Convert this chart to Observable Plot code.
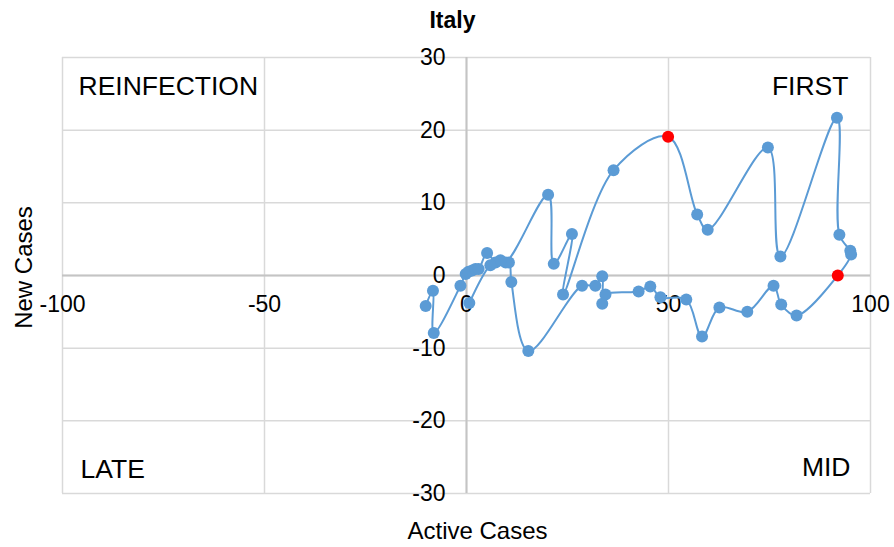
<!DOCTYPE html>
<html>
<head>
<meta charset="utf-8">
<script src="https://cdn.jsdelivr.net/npm/d3@7"></script>
<script src="https://cdn.jsdelivr.net/npm/@observablehq/plot@0.6"></script>
<style>
  html, body { margin: 0; padding: 0; background: #ffffff; }
  #chart svg { display: block; }
</style>
</head>
<body>
<div id="chart"></div>
<script>
// ---- Data, in drawing order ----
const activeCases = [
  -10.1, -8.3, -8.1, -1.5, -0.2, 0.5, 1.4, 2.2, 3.0, 5.1,
  7.2, 9.7, 20.2, 21.6, 26.1, 23.9, 36.4, 49.9, 57.1, 59.7,
  74.6, 77.7, 91.7, 92.3, 95.0, 95.2, 91.9, 81.7, 77.9, 76.0,
  69.5, 62.6, 58.3, 54.4, 48.0, 45.5, 42.6, 34.4, 33.6, 33.6,
  31.9, 28.6, 15.3, 11.1, 10.5, 8.4, 5.9, 0.7
];
const newCases = [
  -4.2, -2.1, -7.9, -1.4, 0.2, 0.5, 0.7, 0.9, 0.9, 3.1,
  1.8, 1.8, 11.1, 1.6, 5.7, -2.6, 14.5, 19.1, 8.4, 6.3,
  17.6, 2.6, 21.7, 5.6, 3.4, 2.9, 0.0, -5.5, -4.0, -1.4,
  -5.0, -4.4, -8.4, -3.3, -3.0, -1.5, -2.2, -2.6, -3.9, -0.1,
  -1.4, -1.4, -10.4, -0.9, 1.8, 2.1, 1.4, -3.8
];
const highlightIndex = [17, 26];
const xTicks = [-100, -50, 0, 50, 100];
const yTicks = [-30, -20, -10, 0, 10, 20, 30];
const chartTitle = "Italy";
const xTitle = "Active Cases";
const yTitle = "New Cases";
const quadrantLabels = ["REINFECTION", "FIRST", "LATE", "MID"];

const points = activeCases.map((a, i) => ({
  active: a,
  newc: newCases[i],
  highlight: highlightIndex.includes(i)
}));

const FONT = "'Liberation Sans', Arial, Helvetica, sans-serif";
const grid = "#d9d9d9";
const axisC = "#c4c4c4";
const blue = "#5B9BD5";
const red = "#FF0000";

const chart = Plot.plot({
  width: 894,
  height: 547,
  marginLeft: 62,
  marginRight: 24,
  marginTop: 57,
  marginBottom: 54,
  x: { domain: [-100, 100], axis: null },
  y: { domain: [-30, 30], axis: null },
  style: { fontFamily: FONT, background: "#ffffff", color: "#000000", overflow: "visible" },
  marks: [
    Plot.ruleX(xTicks, { stroke: grid, strokeWidth: 1.5 }),
    Plot.ruleY(yTicks, { stroke: grid, strokeWidth: 1.5 }),
    Plot.ruleX([0], { stroke: axisC, strokeWidth: 2 }),
    Plot.ruleY([0], { stroke: axisC, strokeWidth: 2 }),
    // tick labels
    Plot.text(xTicks, { x: d => d, y: 0, dy: 29, text: d => String(d), fontSize: 23, lineAnchor: "middle", fill: "#000" }),
    Plot.text(yTicks, { x: 0, y: d => d, dx: -21, text: d => String(d), fontSize: 23, textAnchor: "end", lineAnchor: "middle", fill: "#000" }),
    // series
    Plot.line(points, { x: "active", y: "newc", curve: "catmull-rom", stroke: blue, strokeWidth: 2 }),
    Plot.dot(points, { x: "active", y: "newc", r: 6, fill: d => d.highlight ? red : blue, stroke: "none" }),
    // quadrant labels
    Plot.text([quadrantLabels[0]], { frameAnchor: "top-left", textAnchor: "start", lineAnchor: "middle", dx: 16, dy: 29.5, fontSize: 26.5, fill: "#000" }),
    Plot.text([quadrantLabels[1]], { frameAnchor: "top-right", textAnchor: "end", lineAnchor: "middle", dx: -22, dy: 29.5, fontSize: 26.5, fill: "#000" }),
    Plot.text([quadrantLabels[2]], { frameAnchor: "bottom-left", textAnchor: "start", lineAnchor: "middle", dx: 18, dy: -24, fontSize: 26.5, fill: "#000" }),
    Plot.text([quadrantLabels[3]], { frameAnchor: "bottom-right", textAnchor: "end", lineAnchor: "middle", dx: -20, dy: -25.5, fontSize: 26.5, fill: "#000" }),
    // titles
    Plot.text([chartTitle], { frameAnchor: "top", textAnchor: "middle", lineAnchor: "middle", dx: -14, dy: -36.5, fontSize: 23, fontWeight: "bold", fill: "#000" }),
    Plot.text([xTitle], { frameAnchor: "bottom", textAnchor: "middle", lineAnchor: "middle", dx: 11, dy: 38, fontSize: 24, fill: "#000" }),
    Plot.text([yTitle], { frameAnchor: "left", textAnchor: "middle", lineAnchor: "middle", rotate: -90, dx: -38, dy: -8, fontSize: 24, fill: "#000" })
  ]
});
document.getElementById("chart").appendChild(chart);
</script>
</body>
</html>
